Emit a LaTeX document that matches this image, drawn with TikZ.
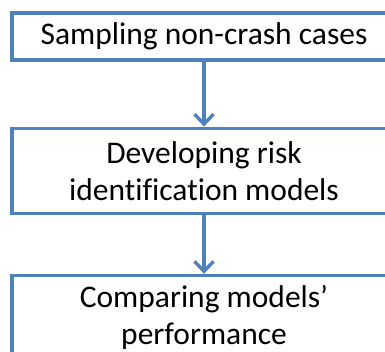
\documentclass[tikz,border=0pt]{standalone}
\usepackage{fontspec}
\setmainfont{Carlito}[Ligatures={TeX,NoCommon}]
\usetikzlibrary{positioning,arrows.meta}
\definecolor{stepblue}{HTML}{4F81BD}

\begin{document}
\begin{tikzpicture}[x=1bp, y=-1bp,
    stage/.style={draw=stepblue, line width=3.2bp, fill=white, align=center,
      minimum width=384bp, inner sep=0pt,
      font=\fontsize{31.5bp}{37bp}\selectfont},
    flow/.style={draw=stepblue, line width=3.2bp,
      -{Straight Barb[length=10bp, width=19bp, line width=3.4bp]}}]

      \useasboundingbox (0,0) rectangle (385,352);
      \clip (0,0) rectangle (385,352);
      %%
      \node[stage, minimum height=47bp] (sampling) at (204,36.5) {Sampling non-crash cases};
      \node[stage, minimum height=85bp, below=65bp of sampling] (developing)
        {Developing risk\\ identification models};
      \node[stage, minimum height=85bp, below=59bp of developing] (comparing)
        {Comparing models'\\ performance};
      %%
      \draw[flow] (sampling) -- (developing);
      \draw[flow] (developing) -- (comparing);

\end{tikzpicture}
\end{document}
